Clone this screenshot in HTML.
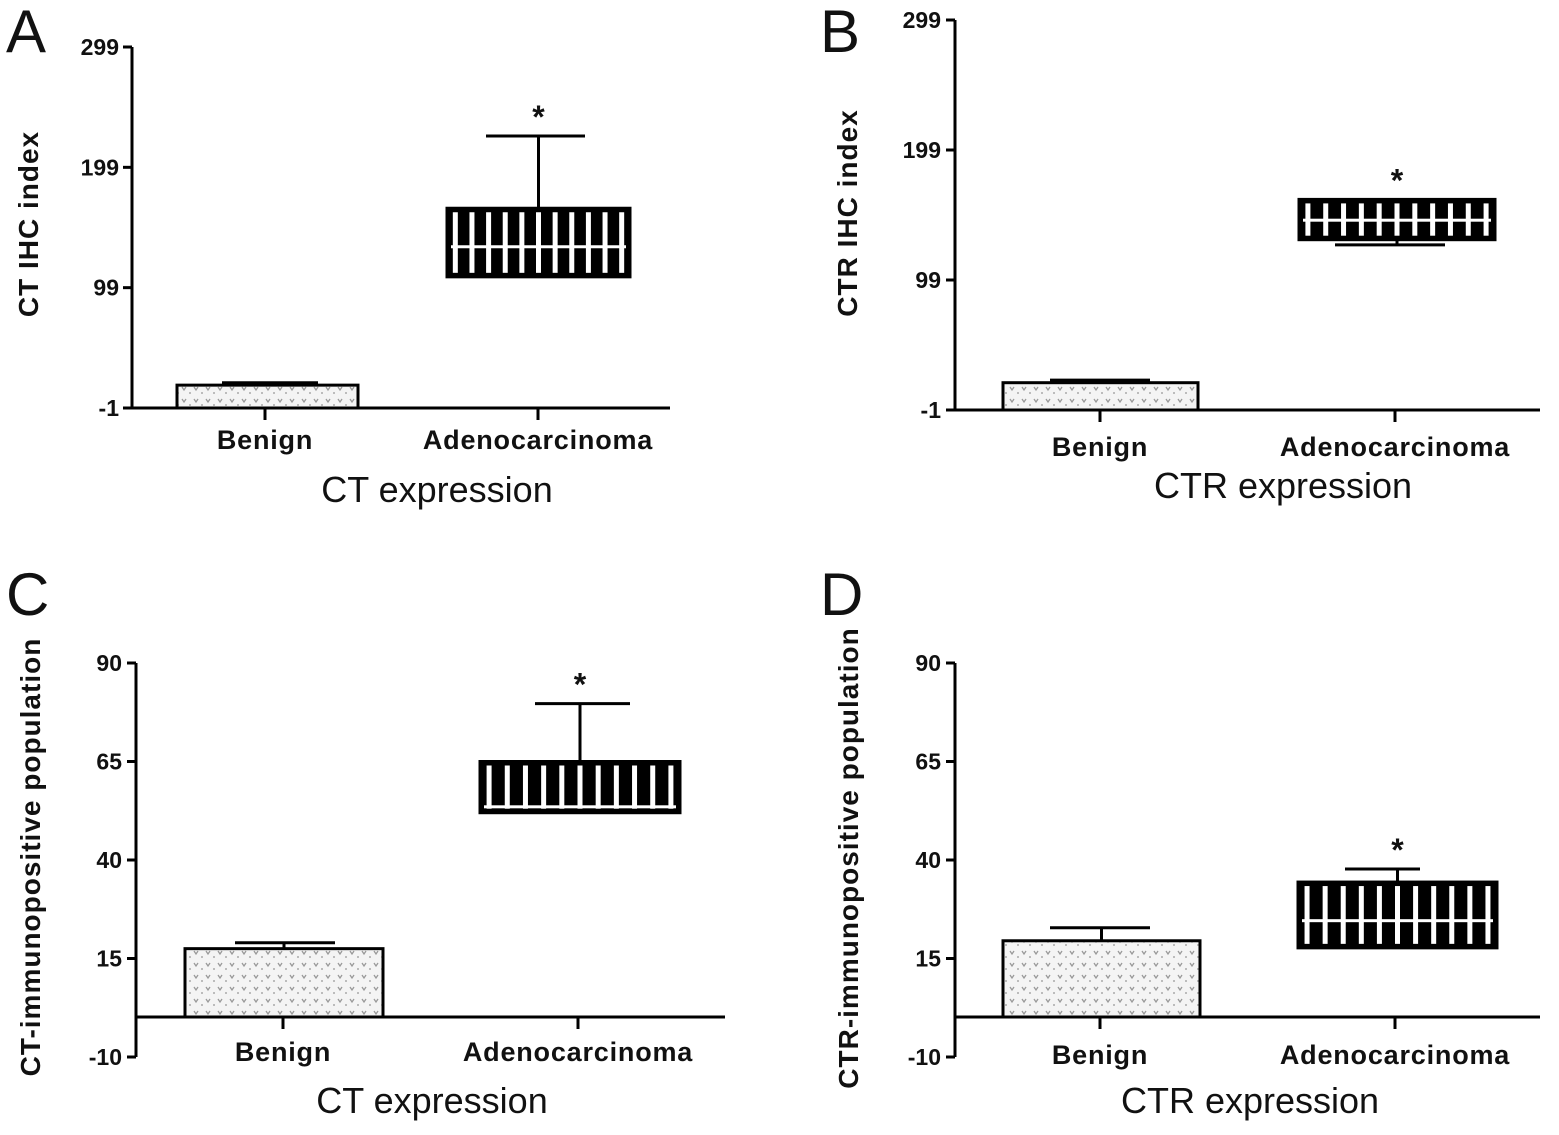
<!DOCTYPE html>
<html><head><meta charset="utf-8"><style>
body{margin:0;background:#fff;}
svg text{font-family:"Liberation Sans",Arial,sans-serif;}
</style></head><body>
<svg id="chart" width="1559" height="1130" viewBox="0 0 1559 1130" xmlns="http://www.w3.org/2000/svg">
<defs>
<pattern id="dots" width="12" height="12" patternUnits="userSpaceOnUse">
<rect width="12" height="12" fill="#f4f4f4"/>
<path d="M2,3 L4,6 L6,3" stroke="#999" stroke-width="1.3" fill="none"/>
<circle cx="10" cy="9" r="1" fill="#aaa"/>
</pattern>
</defs>
</svg>
<script>
const categories = ["Benign", "Adenocarcinoma"];
const tickA = [-1, 99, 199, 299];
const tickC = [-10, 15, 40, 65, 90];
// [benign top, adeno low, adeno mid, adeno high]
const valuesA = [18, 108, 133, 165];
const errA = [20, 225];
const valuesB = [20, 130, 145, 161];
const errB = [22, 126];
const valuesC = [17.5, 52, 53.5, 65];
const errC = [19, 79.7];
const valuesD = [19.5, 17.7, 24.6, 34.4];
const errD = [22.8, 37.7];

const NS = "http://www.w3.org/2000/svg";
const svg = document.getElementById("chart");
function mk(tag, attrs, parent, text){
  const e = document.createElementNS(NS, tag);
  for (const k in attrs) e.setAttribute(k, attrs[k]);
  if (text !== undefined) e.textContent = text;
  (parent || svg).appendChild(e);
  return e;
}

const panels = [
 {id:"a", letter:"A", lx:6, ly:52, ax:132, ax2:670, ymin:-1, ymax:299, ytop:47, ybot:408, base:408, ticks:tickA, v:valuesA, err:errA,
  bx:[[177,358],[447,630]], tx:[265,538], caps:[[0,0],[486,585]], benCap:[222,318], errDown:false,
  ytitle:"CT IHC index", ytx:38, yty:224, xtitle:"CT expression", xtx:437, xty:502, laby:449, tickLabX:119},
 {id:"b", letter:"B", lx:820, ly:52, ax:955, ax2:1540, ymin:-1, ymax:299, ytop:20, ybot:410, base:410, ticks:tickA, v:valuesB, err:errB,
  bx:[[1003,1198],[1299,1495]], tx:[1100,1395], caps:[[0,0],[1335,1445]], benCap:[1050,1150], errDown:true,
  ytitle:"CTR IHC index", ytx:857, yty:213, xtitle:"CTR  expression", xtx:1283, xty:498, laby:456, tickLabX:941},
 {id:"c", letter:"C", lx:6, ly:615, ax:136, ax2:725, ymin:-10, ymax:90, ytop:663, ybot:1057, base:1017, ticks:tickC, v:valuesC, err:errC,
  bx:[[185,383],[480,680]], tx:[283,578], caps:[[0,0],[535,630]], benCap:[235,335], errDown:false,
  ytitle:"CT-immunopositive population", ytx:40, yty:857, xtitle:"CT expression", xtx:432, xty:1113, laby:1061, tickLabX:122},
 {id:"d", letter:"D", lx:820, ly:615, ax:955, ax2:1540, ymin:-10, ymax:90, ytop:663, ybot:1057, base:1017, ticks:tickC, v:valuesD, err:errD,
  bx:[[1003,1200],[1298,1497]], tx:[1100,1395], caps:[[0,0],[1345,1420]], benCap:[1050,1150], errDown:false,
  ytitle:"CTR-immunopositive population", ytx:858, yty:858, xtitle:"CTR expression", xtx:1250, xty:1113, laby:1064, tickLabX:941}
];

panels.forEach(p => {
  const g = mk("g", {});
  
  
  const y = v => p.ybot - (v - p.ymin) / (p.ymax - p.ymin) * (p.ybot - p.ytop);
  const L = mk("text", {x:p.lx, y:p.ly, "font-size":60, fill:"#111"}, g, p.letter);
  
  

  const b0 = p.bx[0];
  const ben = mk("rect", {x:b0[0], y:y(p.v[0]), width:b0[1]-b0[0], height:p.base-y(p.v[0]), fill:"url(#dots)", stroke:"#000", "stroke-width":3}, g);
  
  
  const benTop = y(p.v[0]), benErr = y(p.err[0]);
  const be = mk("path", {d:`M${(b0[0]+b0[1])/2},${benTop} V${benErr} M${p.benCap[0]},${benErr} H${p.benCap[1]}`, stroke:"#000", "stroke-width":3, fill:"none"}, g);
  
  

  const b1 = p.bx[1];
  const lo = y(p.v[1]), mid = y(p.v[2]), hi = y(p.v[3]);
  const cx = (b1[0]+b1[1])/2;
  const ae = mk("path", {d: p.errDown ? `M${cx},${lo} V${y(p.err[1])} M${p.caps[1][0]},${y(p.err[1])} H${p.caps[1][1]}` : `M${cx},${hi} V${y(p.err[1])} M${p.caps[1][0]},${y(p.err[1])} H${p.caps[1][1]}`, stroke:"#000", "stroke-width":3, fill:"none"}, g);
  
  
  const ad = mk("g", {}, g);
  
  
  mk("rect", {x:b1[0], y:hi, width:b1[1]-b1[0], height:lo-hi, fill:"#000"}, ad);
  const w = b1[1]-b1[0], n = 11, per = w / n;
  for (let i = 0; i < n; i++) {
    mk("rect", {x:b1[0]+per*i+per*0.5-2.5, y:hi+4, width:5, height:lo-hi-8, fill:"#fff"}, ad);
  }
  mk("rect", {x:b1[0]+4, y:mid-1.5, width:w-8, height:3, fill:"#fff"}, ad);
  mk("rect", {x:b1[0], y:hi, width:w, height:lo-hi, fill:"none", stroke:"#000", "stroke-width":3}, ad);

  const st = mk("text", {x:cx, y:(p.errDown ? hi : y(p.err[1])) - 8, "font-size":32, "font-weight":"bold", "text-anchor":"middle", fill:"#111"}, g, "*");
  
  

  const ya = mk("line", {x1:p.ax, y1:p.ytop, x2:p.ax, y2:p.ybot, stroke:"#000", "stroke-width":3}, g);
  
  
  const xa = mk("line", {x1:p.ax, y1:p.base, x2:p.ax2, y2:p.base, stroke:"#000", "stroke-width":3}, g);
  
  
  p.ticks.forEach(t => {
    mk("line", {x1:p.ax-9, y1:y(t), x2:p.ax, y2:y(t), stroke:"#000", "stroke-width":3}, g);
    const tl = mk("text", {x:p.tickLabX, y:y(t)+8, "font-size":23, "font-weight":"bold", "text-anchor":"end", fill:"#111"}, g, String(t));
    
    
  });
  categories.forEach((c, i) => {
    mk("line", {x1:p.tx[i], y1:p.base, x2:p.tx[i], y2:p.base+12, stroke:"#000", "stroke-width":3}, g);
    const cl = mk("text", {x:p.tx[i], y:p.laby, "font-size":27, "font-weight":"bold", "letter-spacing":"0.8", "text-anchor":"middle", fill:"#111"}, g, c);
    
    
  });
  const xt = mk("text", {x:p.xtx, y:p.xty, "font-size":36, "text-anchor":"middle", fill:"#111"}, g, p.xtitle);
  
  
  const yt = mk("text", {x:p.ytx, y:p.yty, "font-size":28, "font-weight":"bold", "letter-spacing":"1", "text-anchor":"middle", fill:"#111", transform:`rotate(-90 ${p.ytx} ${p.yty})`}, g, p.ytitle);
  
  
});
</script>
</body></html>
